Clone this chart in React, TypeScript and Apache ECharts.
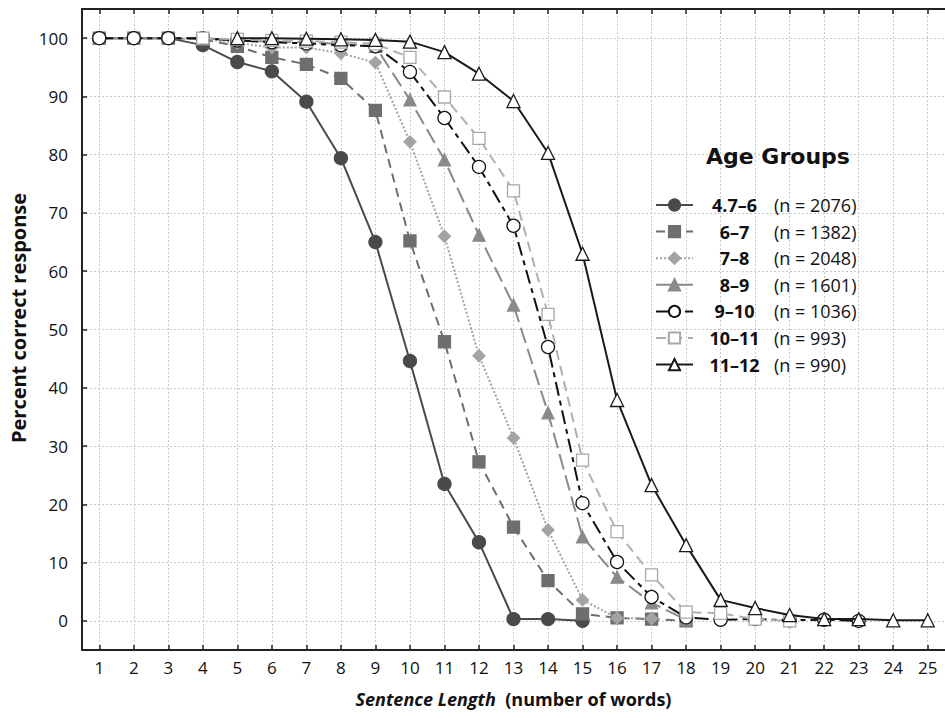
import React, { useEffect, useRef } from "react";
import * as echarts from "echarts";

const xTicks = Array.from({ length: 25 }, (_, i) => i + 1);
const yTicks = [0, 10, 20, 30, 40, 50, 60, 70, 80, 90, 100];

const groupNames = ["4.7–6", "6–7", "7–8", "8–9", "9–10", "10–11", "11–12"];
const groupN = ["2076", "1382", "2048", "1601", "1036", "993", "990"];
const groupStart = [1, 1, 1, 1, 1, 4, 5];

const g1 = [100, 100, 100, 98.8, 95.9, 94.3, 89.1, 79.4, 65.0, 44.6, 23.5, 13.5, 0.3, 0.3, 0];
const g2 = [100, 100, 100, 99.8, 98.6, 96.7, 95.5, 93.1, 87.6, 65.2, 47.9, 27.3, 16.1, 6.9, 1.2, 0.5, 0.3, 0];
const g3 = [100, 100, 100, 99.8, 99.2, 98.4, 98.4, 97.4, 95.8, 82.2, 66.0, 45.5, 31.4, 15.6, 3.6, 0.5, 0.4];
const g4 = [100, 100, 100, 100, 99.6, 99.4, 99.3, 99.0, 98.6, 89.4, 79.1, 66.2, 54.2, 35.7, 14.4, 7.5, 3.1, 0.2];
const g5 = [100, 100, 100, 100, 99.6, 99.3, 99.1, 98.8, 98.6, 94.2, 86.3, 77.9, 67.8, 47.0, 20.2, 10.1, 4.1, 0.6, 0.2, 0.3, 0.1, 0.2, 0];
const g6 = [100, 99.8, 99.6, 99.5, 99.3, 99.0, 96.7, 89.9, 82.8, 73.8, 52.6, 27.6, 15.3, 7.9, 1.5, 1.3, 0.3, 0];
const g7 = [100, 100, 99.9, 99.8, 99.7, 99.4, 97.6, 93.9, 89.2, 80.3, 63.0, 37.9, 23.3, 13.0, 3.6, 2.2, 1.0, 0.3, 0.3, 0.1, 0.1];

const groupValues = [g1, g2, g3, g4, g5, g6, g7];

const FONT = "Open Sans";

const styles = [
  { color: "#4a4a4a", fill: "#4a4a4a", border: "#4a4a4a", symbol: "circle", size: 13, type: "solid" as any },
  { color: "#6e6e6e", fill: "#6e6e6e", border: "#6e6e6e", symbol: "rect", size: 12, type: [9, 6] as any },
  { color: "#a3a3a3", fill: "#a3a3a3", border: "#a3a3a3", symbol: "diamond", size: 12, type: [2, 2] as any },
  { color: "#8a8a8a", fill: "#8a8a8a", border: "#8a8a8a", symbol: "triangle", size: 12, type: [16, 6] as any },
  { color: "#111111", fill: "#ffffff", border: "#111111", symbol: "circle", size: 13, type: [14, 5, 5, 5] as any },
  { color: "#b0b0b0", fill: "#ffffff", border: "#a8a8a8", symbol: "rect", size: 12, type: [10, 6] as any },
  { color: "#1a1a1a", fill: "#ffffff", border: "#1a1a1a", symbol: "triangle", size: 13, type: "solid" as any },
];

export default function App() {
  const ref = useRef<HTMLDivElement>(null);
  useEffect(() => {
    if (!ref.current) return;
    const chart = echarts.init(ref.current, undefined, { renderer: "svg" });

    const gridLine = {
      type: "line",
      data: [],
      silent: true,
      z: 0,
      markLine: {
        silent: true,
        symbol: "none",
        z: 0,
        label: { show: false },
        lineStyle: { type: [2, 2], color: "#c8c8c8", width: 1 },
        animation: false,
        data: [
          ...xTicks.map((v) => ({ xAxis: v })),
          ...yTicks.map((v) => ({ yAxis: v })),
        ],
      },
    };

    const series: any[] = [gridLine];
    groupValues.forEach((vals, i) => {
      const s = styles[i];
      series.push({
        name: groupNames[i],
        type: "line",
        z: 2 + i,
        data: vals.map((v, j) => [groupStart[i] + j, v]),
        symbol: s.symbol,
        symbolSize: s.size,
        showAllSymbol: true,
        lineStyle: { color: s.color, width: 2, type: s.type },
        itemStyle: { color: s.fill, borderColor: s.border, borderWidth: 1.3, opacity: 1 },
        emphasis: { disabled: true },
      });
    });

    chart.setOption({
      animation: false,
      backgroundColor: "#ffffff",
      textStyle: { fontFamily: FONT },
      title: {
        text: "Age Groups",
        left: 706,
        top: 145,
        padding: 0,
        textStyle: { fontFamily: "DejaVu Sans", fontWeight: "bold", fontSize: 22, color: "#111" },
      },
      graphic: [
        {
          type: "text",
          x: 18,
          y: 318,
          rotation: Math.PI / 2,
          style: {
            text: "Percent correct response",
            fontFamily: FONT,
            fontWeight: "bold",
            fontSize: 20,
            fill: "#111",
            align: "center",
            verticalAlign: "middle",
          },
        },
      ],
      legend: {
        orient: "vertical",
        left: 655,
        top: 196,
        padding: 0,
        itemWidth: 37,
        itemHeight: 14,
        itemGap: 8.6,
        selectedMode: false,
        data: groupNames,
        formatter: (name: string) => {
          const i = groupNames.indexOf(name);
          return `{a|${name}}{b|(n = ${groupN[i]})}`;
        },
        textStyle: {
          fontFamily: FONT,
          color: "#111",
          rich: {
            a: { width: 73, align: "right", fontWeight: "bold", fontSize: 18, fontFamily: FONT, color: "#111", lineHeight: 14 },
            b: { padding: [0, 0, 0, 3], fontSize: 18, fontFamily: FONT, color: "#111", lineHeight: 14 },
          },
        },
      },
      grid: { left: 82, right: -4, top: 9, bottom: 75, containLabel: false },
      xAxis: [
        {
          type: "value",
          min: 0.5,
          max: 25.5,
          position: "bottom",
          name: "{i|Sentence Length}{n|  (number of words)}",
          nameLocation: "middle",
          nameGap: 40,
          nameTextStyle: {
            rich: {
              i: { fontFamily: FONT, fontSize: 18, fontWeight: "bold", fontStyle: "italic", color: "#111" },
              n: { fontFamily: FONT, fontSize: 18, fontWeight: "bold", color: "#111" },
            },
          },
          axisLine: { show: true, onZero: false, lineStyle: { color: "#222", width: 2 } },
          axisTick: { show: true, inside: true, length: 5, customValues: xTicks, lineStyle: { color: "#222", width: 1.5 } },
          axisLabel: { customValues: xTicks, fontSize: 17, color: "#111", margin: 9, fontFamily: FONT },
          splitLine: { show: false },
        },
        {
          type: "value",
          min: 0.5,
          max: 25.5,
          position: "top",
          axisLine: { show: true, onZero: false, lineStyle: { color: "#222", width: 2 } },
          axisTick: { show: true, inside: true, length: 5, customValues: xTicks, lineStyle: { color: "#222", width: 1.5 } },
          axisLabel: { show: false },
          splitLine: { show: false },
        },
      ],
      yAxis: {
        type: "value",
        min: -5,
        max: 105,
        axisLine: { show: true, onZero: false, lineStyle: { color: "#222", width: 2 } },
        axisTick: { show: true, inside: true, length: 5, customValues: yTicks, lineStyle: { color: "#222", width: 1.5 } },
        axisLabel: { customValues: yTicks, fontSize: 17, color: "#111", margin: 14, fontFamily: FONT },
        splitLine: { show: false },
      },
      series,
    });
    return () => chart.dispose();
  }, []);
  return <div ref={ref} style={{ width: 945, height: 725, position: "absolute", left: 0, top: 0 }} />;
}
